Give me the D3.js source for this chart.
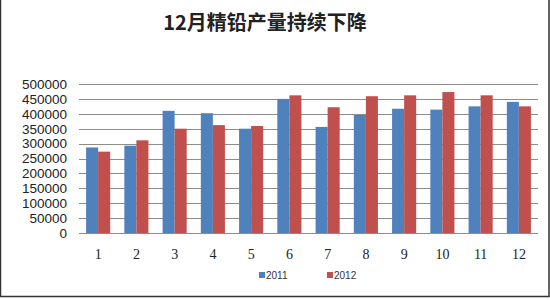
<!DOCTYPE html>
<meta charset="utf-8">
<script src="https://cdn.jsdelivr.net/npm/d3@7/dist/d3.min.js"></script>
<style>
  body { margin: 0; background: #fff; }
  svg { display: block; }
</style>
<body>
<script>

// data
var months = ["1", "2", "3", "4", "5", "6", "7", "8", "9", "10", "11", "12"]
var series = ["2011", "2012"]
var values2011 = [287000, 293000, 410000, 402000, 350000, 450000, 356000, 396000, 417000, 414000, 425000, 440000]
var values2012 = [273000, 311000, 350000, 362000, 359000, 462000, 422000, 459000, 462000, 473000, 462000, 425000]
var yTicks = [0, 50000, 100000, 150000, 200000, 250000, 300000, 350000, 400000, 450000, 500000]
var title = "12月精铅产量持续下降"

var colors = ["#4f81bd", "#c0504d"]

var width = 550
var height = 300
var margin = {top: 84, right: 12, bottom: 67, left: 79}

var svg = d3.select("body").append("svg")
            .attr("width", width)
            .attr("height", height)

// frame
svg.append("rect").attr("x", 0.5).attr("y", -2).attr("width", width - 1.5).attr("height", height - 1.5)
   .attr("fill", "none").attr("stroke", "#333").attr("stroke-width", 1.5)

svg.append("text")
   .attr("x", 265).attr("y", 30)
   .attr("text-anchor", "middle")
   .style("font-family", "'Noto Sans CJK SC'")
   .style("font-weight", "bold")
   .style("font-size", "20px")
   .attr("fill", "#222")
   .text(title)

var x = d3.scaleBand().domain(months).range([margin.left, width - margin.right]).paddingInner(0.37).paddingOuter(0.185)
var xs = d3.scaleBand().domain(series).range([0, x.bandwidth()])
var y = d3.scaleLinear().domain([0, 500000]).range([height - margin.bottom, margin.top])

// gridlines
svg.append("g")
   .selectAll("line")
   .data(yTicks)
   .join("line")
   .attr("x1", margin.left).attr("x2", width - margin.right)
   .attr("y1", function(d) { return Math.round(y(d)) + 0.5 })
   .attr("y2", function(d) { return Math.round(y(d)) + 0.5 })
   .attr("stroke", "#8c8c8c")
   .attr("stroke-width", 1)

// y axis labels
var yAxis = svg.append("g")
   .attr("transform", "translate(" + (margin.left - 12) + ",0)")
   .call(d3.axisLeft(y).tickValues(yTicks).tickSize(0).tickPadding(0).tickFormat(d3.format("d")))
yAxis.select(".domain").remove()
yAxis.selectAll("text")
     .style("font-family", "'Liberation Sans', Arial")
     .style("font-size", "13.5px")
     .attr("fill", "#222")

// bars
var rows = months.map(function(m, i) { return {month: m, vals: [values2011[i], values2012[i]]} })
var groups = svg.append("g").selectAll("g")
   .data(rows)
   .join("g")
   .attr("transform", function(d) { return "translate(" + x(d.month) + ",0)" })
groups.selectAll("rect")
   .data(function(d) { return d.vals.map(function(v, j) { return {key: series[j], value: v} }) })
   .join("rect")
   .attr("x", function(d) { return xs(d.key) })
   .attr("width", xs.bandwidth())
   .attr("y", function(d) { return y(d.value) })
   .attr("height", function(d) { return y(0) - y(d.value) })
   .attr("fill", function(d, j) { return colors[series.indexOf(d.key)] })

// x axis labels
var xAxis = svg.append("g")
   .attr("transform", "translate(0," + (y(0) + 16) + ")")
   .call(d3.axisBottom(x).tickSize(0).tickPadding(0))
xAxis.select(".domain").remove()
xAxis.selectAll("text")
     .style("font-family", "'Liberation Serif', serif")
     .style("font-size", "14px")
     .attr("fill", "#222")

// legend
var legendX = [259, 327]
var legend = svg.append("g").selectAll("g")
   .data(series)
   .join("g")
   .attr("transform", function(d, i) { return "translate(" + legendX[i] + ",272)" })
legend.append("rect")
   .attr("width", 6).attr("height", 6)
   .attr("fill", function(d, i) { return colors[i] })
legend.append("text")
   .attr("x", 7).attr("y", 7)
   .style("font-family", "'Liberation Sans', Arial")
   .style("font-size", "10px")
   .attr("fill", "#333")
   .text(function(d) { return d })

</script>
</body>
